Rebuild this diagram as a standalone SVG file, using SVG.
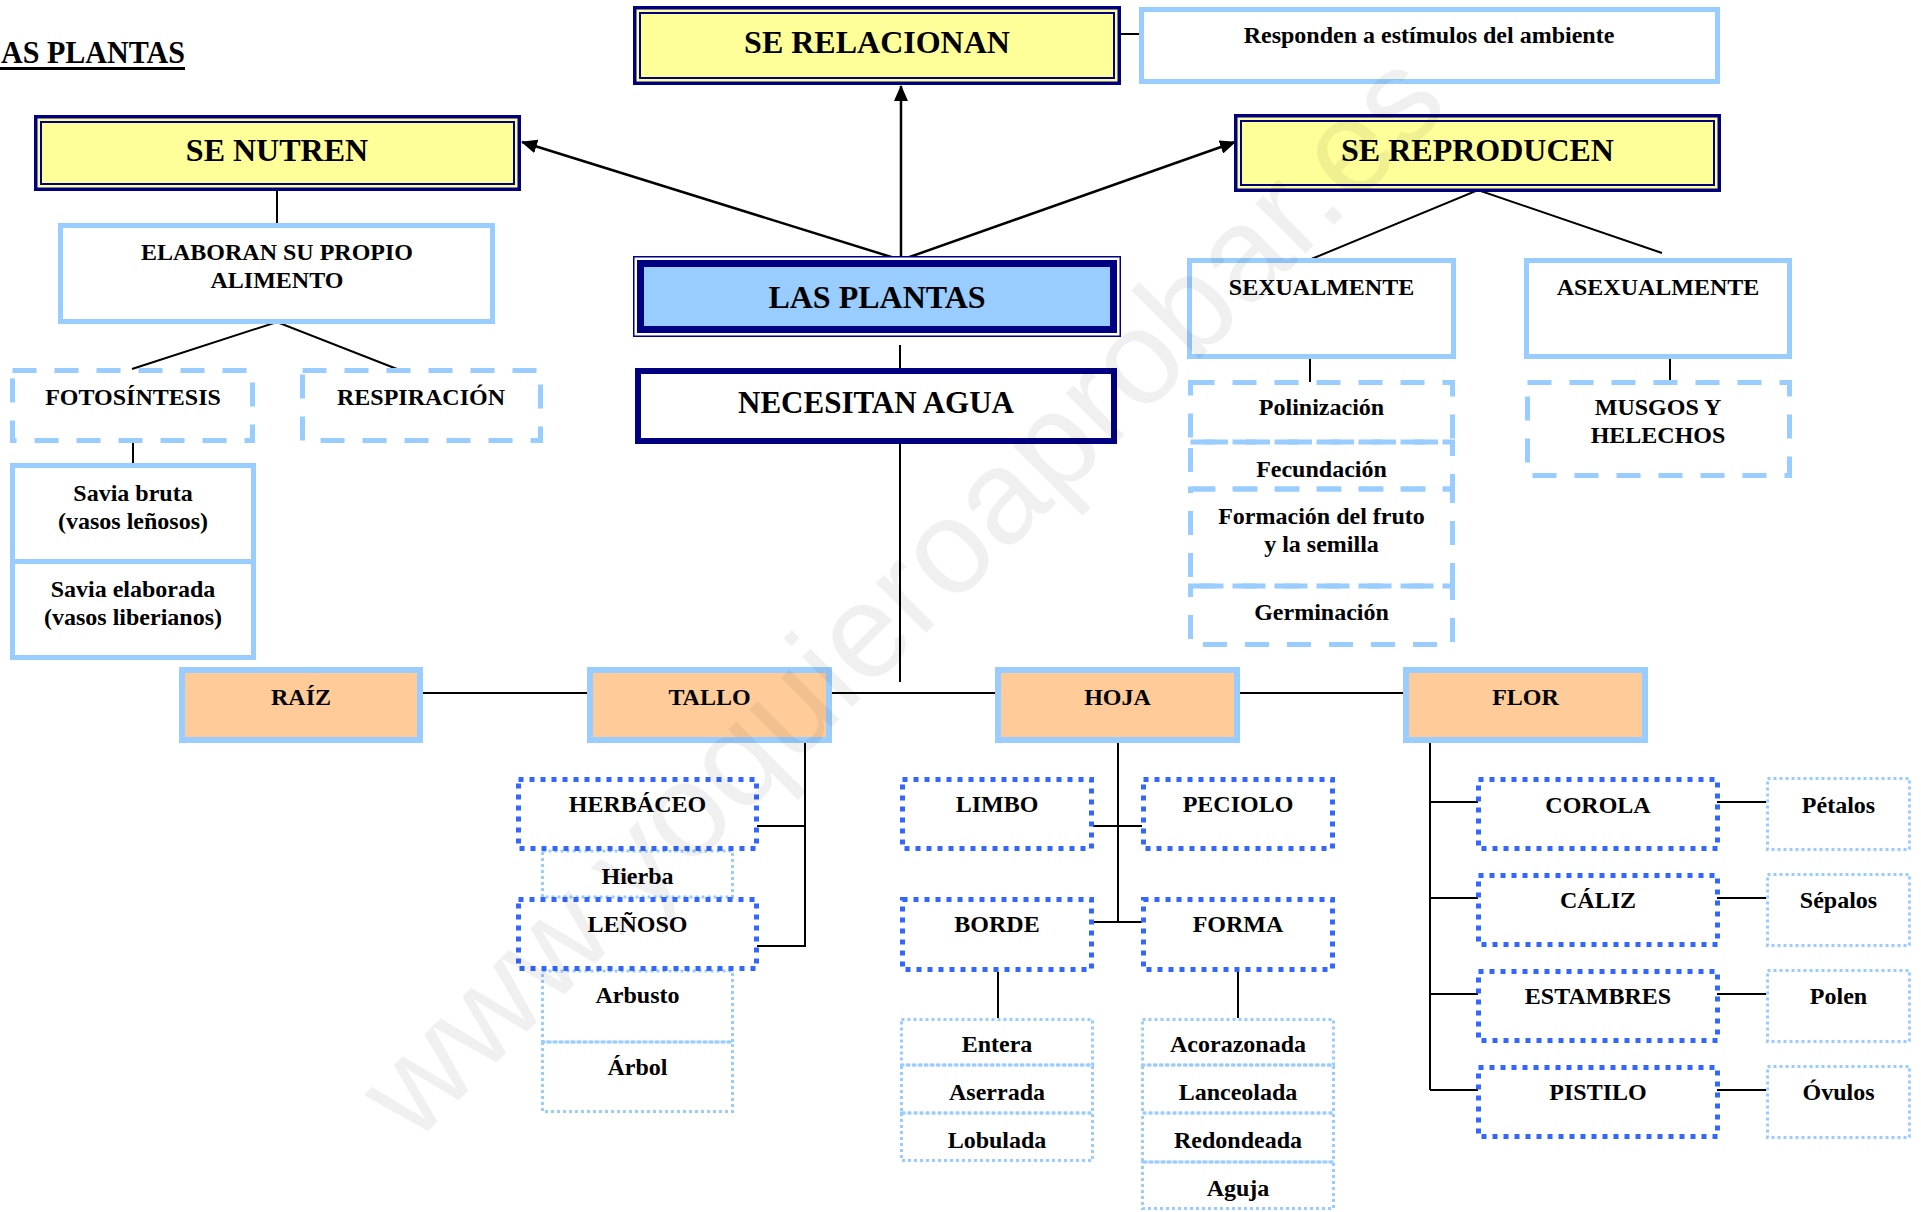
<svg xmlns="http://www.w3.org/2000/svg" width="1921" height="1212" viewBox="0 0 1921 1212">
<defs>
<style>
.t{font-family:"Liberation Serif","Times New Roman",serif;font-weight:bold;fill:#000;text-anchor:middle}
.big{font-size:32px}
.sm{font-size:24px}
.lb{fill:#fff;stroke:#99CCFF;stroke-width:5}
.dash{fill:none;stroke:#99CCFF;stroke-width:5;stroke-dasharray:24 18}
.dot{fill:none;stroke:#3366FF;stroke-width:5;stroke-dasharray:5 6}
.ldot{fill:none;stroke:#99CCFF;stroke-width:3;stroke-dasharray:3 3}
.org{fill:#FFCC99;stroke:#99CCFF;stroke-width:6}
.yel{fill:#FFFF99;stroke:#000080;stroke-width:3.5}
.yin{fill:none;stroke:#000080;stroke-width:2}
.con{stroke:#000;stroke-width:2;fill:none}
.arr{stroke:#000;stroke-width:2.5;fill:none;marker-end:url(#ah)}
</style>
<marker id="ah" viewBox="0 0 16 14" refX="15" refY="7" markerWidth="16" markerHeight="14" markerUnits="userSpaceOnUse" orient="auto"><path d="M0,0 L16,7 L0,14 z" fill="#000"/></marker>
</defs>
<rect width="1921" height="1212" fill="#fff"/>

<g id="title">
<text class="t" x="1" y="63" textLength="184" lengthAdjust="spacingAndGlyphs" style="font-size:32px;text-anchor:start">AS PLANTAS</text>
<line x1="0" y1="68.5" x2="185" y2="68.5" stroke="#000" stroke-width="3"/>
</g>

<g id="connectors">
<line class="con" x1="277" y1="177" x2="277" y2="224"/>
<polyline class="con" points="132,369 277,322 397,369"/>
<line class="con" x1="133" y1="442" x2="133" y2="466"/>
<line class="arr" x1="901" y1="260" x2="522" y2="142"/>
<line class="arr" x1="901" y1="258" x2="901" y2="86"/>
<line class="arr" x1="901" y1="260" x2="1235" y2="142"/>
<line class="con" x1="1121" y1="34" x2="1140" y2="34"/>
<polyline class="con" points="1309,260 1478,190 1662,253"/>
<line class="con" x1="1310" y1="356" x2="1310" y2="382"/>
<line class="con" x1="1670" y1="356" x2="1670" y2="382"/>
<line class="con" x1="900" y1="345" x2="900" y2="370"/>
<line class="con" x1="900" y1="444" x2="900" y2="682"/>
<line class="con" x1="423" y1="693" x2="588" y2="693"/>
<line class="con" x1="832" y1="693" x2="996" y2="693"/>
<line class="con" x1="1240" y1="693" x2="1404" y2="693"/>
<polyline class="con" points="805,729 805,946 757,946"/>
<line class="con" x1="757" y1="826" x2="805" y2="826"/>
<line class="con" x1="1118" y1="729" x2="1118" y2="922"/>
<line class="con" x1="1093" y1="826" x2="1142" y2="826"/>
<line class="con" x1="1093" y1="922" x2="1142" y2="922"/>
<line class="con" x1="998" y1="972" x2="998" y2="1018"/>
<line class="con" x1="1238" y1="972" x2="1238" y2="1018"/>
<line class="con" x1="1430" y1="729" x2="1430" y2="1090"/>
<line class="con" x1="1430" y1="802" x2="1478" y2="802"/>
<line class="con" x1="1430" y1="898" x2="1478" y2="898"/>
<line class="con" x1="1430" y1="994" x2="1478" y2="994"/>
<line class="con" x1="1430" y1="1090" x2="1478" y2="1090"/>
<line class="con" x1="1717" y1="802" x2="1766" y2="802"/>
<line class="con" x1="1717" y1="898" x2="1766" y2="898"/>
<line class="con" x1="1717" y1="994" x2="1766" y2="994"/>
<line class="con" x1="1717" y1="1090" x2="1766" y2="1090"/>
</g>

<g id="se_nutren"><rect class="yel" x="35.75" y="116.75" width="483.5" height="72.5"/><rect class="yin" x="41" y="122" width="473" height="62"/><text class="t big" x="277" y="161">SE NUTREN</text></g>
<g id="se_relacionan"><rect class="yel" x="634.75" y="7.75" width="484.5" height="75.5"/><rect class="yin" x="640" y="13" width="474" height="65"/><text class="t big" x="877" y="53">SE RELACIONAN</text></g>
<g id="se_reproducen"><rect class="yel" x="1235.75" y="115.75" width="483.5" height="74.5"/><rect class="yin" x="1241" y="121" width="473" height="64"/><text class="t big" x="1477.5" y="161">SE REPRODUCEN</text></g>
<g id="responden"><rect class="lb" x="1141.5" y="9.5" width="576" height="72"/><text class="t sm" x="1429" y="43">Responden a estímulos del ambiente</text></g>
<g id="elaboran"><rect class="lb" x="60.5" y="225.5" width="432" height="96"/><text class="t sm" x="277" y="260">ELABORAN SU PROPIO</text><text class="t sm" x="277" y="288">ALIMENTO</text></g>
<g id="fotosintesis"><rect class="dash" x="12.5" y="370.5" width="240" height="70"/><text class="t sm" x="133" y="405">FOTOSÍNTESIS</text></g>
<g id="respiracion"><rect class="dash" x="302.5" y="370.5" width="238" height="70"/><text class="t sm" x="421" y="405">RESPIRACIÓN</text></g>
<g id="savia_bruta"><rect class="lb" x="12.5" y="465.5" width="241" height="96"/><text class="t sm" x="133" y="501">Savia bruta</text><text class="t sm" x="133" y="529">(vasos leñosos)</text></g>
<g id="savia_elaborada"><rect class="lb" x="12.5" y="561.5" width="241" height="96"/><text class="t sm" x="133" y="597">Savia elaborada</text><text class="t sm" x="133" y="625">(vasos liberianos)</text></g>
<g id="las_plantas"><rect x="633.75" y="256.75" width="486.5" height="79.5" fill="#fff" stroke="#000080" stroke-width="1.5"/><rect x="640.5" y="263.5" width="473" height="66" fill="#99CCFF" stroke="#000080" stroke-width="7"/><text class="t big" x="877" y="308">LAS PLANTAS</text></g>
<g id="necesitan_agua"><rect x="638" y="371" width="476" height="70" fill="#fff" stroke="#000080" stroke-width="6"/><text class="t" x="876" y="413" style="font-size:31px">NECESITAN AGUA</text></g>
<g id="sexualmente"><rect class="lb" x="1189.5" y="260.5" width="264" height="96"/><text class="t sm" x="1321.5" y="295">SEXUALMENTE</text></g>
<g id="asexualmente"><rect class="lb" x="1526.5" y="260.5" width="263" height="96"/><text class="t sm" x="1658" y="295">ASEXUALMENTE</text></g>
<g id="polinizacion"><rect class="dash" x="1190.5" y="382.5" width="262" height="59.5"/><text class="t sm" x="1321.5" y="415">Polinización</text></g>
<g id="fecundacion"><rect class="dash" x="1190.5" y="442" width="262" height="47"/><text class="t sm" x="1321.5" y="477">Fecundación</text></g>
<g id="formacion"><rect class="dash" x="1190.5" y="489" width="262" height="97"/><text class="t sm" x="1321.5" y="524">Formación del fruto</text><text class="t sm" x="1321.5" y="552">y la semilla</text></g>
<g id="germinacion"><rect class="dash" x="1190.5" y="586" width="262" height="58.5"/><text class="t sm" x="1321.5" y="620">Germinación</text></g>
<g id="musgos"><rect class="dash" x="1527.5" y="382.5" width="262" height="93"/><text class="t sm" x="1658" y="415">MUSGOS Y</text><text class="t sm" x="1658" y="443">HELECHOS</text></g>

<g id="raiz"><rect class="org" x="182" y="670" width="238" height="70"/><text class="t sm" x="301" y="705">RAÍZ</text></g>
<g id="tallo"><rect class="org" x="590" y="670" width="239" height="70"/><text class="t sm" x="709.5" y="705">TALLO</text></g>
<g id="hoja"><rect class="org" x="998" y="670" width="239" height="70"/><text class="t sm" x="1117.5" y="705">HOJA</text></g>
<g id="flor"><rect class="org" x="1406" y="670" width="239" height="70"/><text class="t sm" x="1525.5" y="705">FLOR</text></g>

<g id="hierba"><rect class="ldot" x="542.5" y="851" width="190" height="46"/><text class="t sm" x="637.5" y="884">Hierba</text></g>
<g id="arbusto"><rect class="ldot" x="542.5" y="971" width="190" height="71"/><text class="t sm" x="637.5" y="1003">Arbusto</text></g>
<g id="arbol"><rect class="ldot" x="542.5" y="1042" width="190" height="69.5"/><text class="t sm" x="637.5" y="1075">Árbol</text></g>
<g id="herbaceo"><rect class="dot" x="518.5" y="779.5" width="238" height="69"/><text class="t sm" x="637.5" y="812">HERBÁCEO</text></g>
<g id="lenoso"><rect class="dot" x="518.5" y="899.5" width="238" height="69"/><text class="t sm" x="637.5" y="932">LEÑOSO</text></g>

<g id="limbo"><rect class="dot" x="902.5" y="779.5" width="189" height="69"/><text class="t sm" x="997" y="812">LIMBO</text></g>
<g id="peciolo"><rect class="dot" x="1143.5" y="779.5" width="189" height="69"/><text class="t sm" x="1238" y="812">PECIOLO</text></g>
<g id="borde"><rect class="dot" x="902.5" y="899.5" width="189" height="70"/><text class="t sm" x="997" y="932">BORDE</text></g>
<g id="forma"><rect class="dot" x="1143.5" y="899.5" width="189" height="70"/><text class="t sm" x="1238" y="932">FORMA</text></g>
<g id="entera"><rect class="ldot" x="901.5" y="1019.5" width="191" height="45.5"/><text class="t sm" x="997" y="1052">Entera</text></g>
<g id="aserrada"><rect class="ldot" x="901.5" y="1065" width="191" height="48"/><text class="t sm" x="997" y="1100">Aserrada</text></g>
<g id="lobulada"><rect class="ldot" x="901.5" y="1113" width="191" height="47.5"/><text class="t sm" x="997" y="1148">Lobulada</text></g>
<g id="acorazonada"><rect class="ldot" x="1142.5" y="1019.5" width="191" height="45.5"/><text class="t sm" x="1238" y="1052">Acorazonada</text></g>
<g id="lanceolada"><rect class="ldot" x="1142.5" y="1065" width="191" height="48"/><text class="t sm" x="1238" y="1100">Lanceolada</text></g>
<g id="redondeada"><rect class="ldot" x="1142.5" y="1113" width="191" height="49"/><text class="t sm" x="1238" y="1148">Redondeada</text></g>
<g id="aguja"><rect class="ldot" x="1142.5" y="1162" width="191" height="46.5"/><text class="t sm" x="1238" y="1196">Aguja</text></g>

<g id="corola"><rect class="dot" x="1478.5" y="779.5" width="239" height="69"/><text class="t sm" x="1598" y="813">COROLA</text></g>
<g id="caliz"><rect class="dot" x="1478.5" y="875.5" width="239" height="69"/><text class="t sm" x="1598" y="908">CÁLIZ</text></g>
<g id="estambres"><rect class="dot" x="1478.5" y="971.5" width="239" height="69"/><text class="t sm" x="1598" y="1004">ESTAMBRES</text></g>
<g id="pistilo"><rect class="dot" x="1478.5" y="1067.5" width="239" height="69"/><text class="t sm" x="1598" y="1100">PISTILO</text></g>
<g id="petalos"><rect class="ldot" x="1767.5" y="778.5" width="142" height="71"/><text class="t sm" x="1838.5" y="813">Pétalos</text></g>
<g id="sepalos"><rect class="ldot" x="1767.5" y="874.5" width="142" height="71"/><text class="t sm" x="1838.5" y="908">Sépalos</text></g>
<g id="polen"><rect class="ldot" x="1767.5" y="970.5" width="142" height="71"/><text class="t sm" x="1838.5" y="1004">Polen</text></g>
<g id="ovulos"><rect class="ldot" x="1767.5" y="1066.5" width="142" height="71"/><text class="t sm" x="1838.5" y="1100">Óvulos</text></g>

<g id="watermark"><text transform="translate(414,1145) rotate(-45)" font-family="Liberation Sans, Arial, sans-serif" font-size="134" fill="#000" fill-opacity="0.06">www.yoquieroaprobar.es</text></g>
</svg>
